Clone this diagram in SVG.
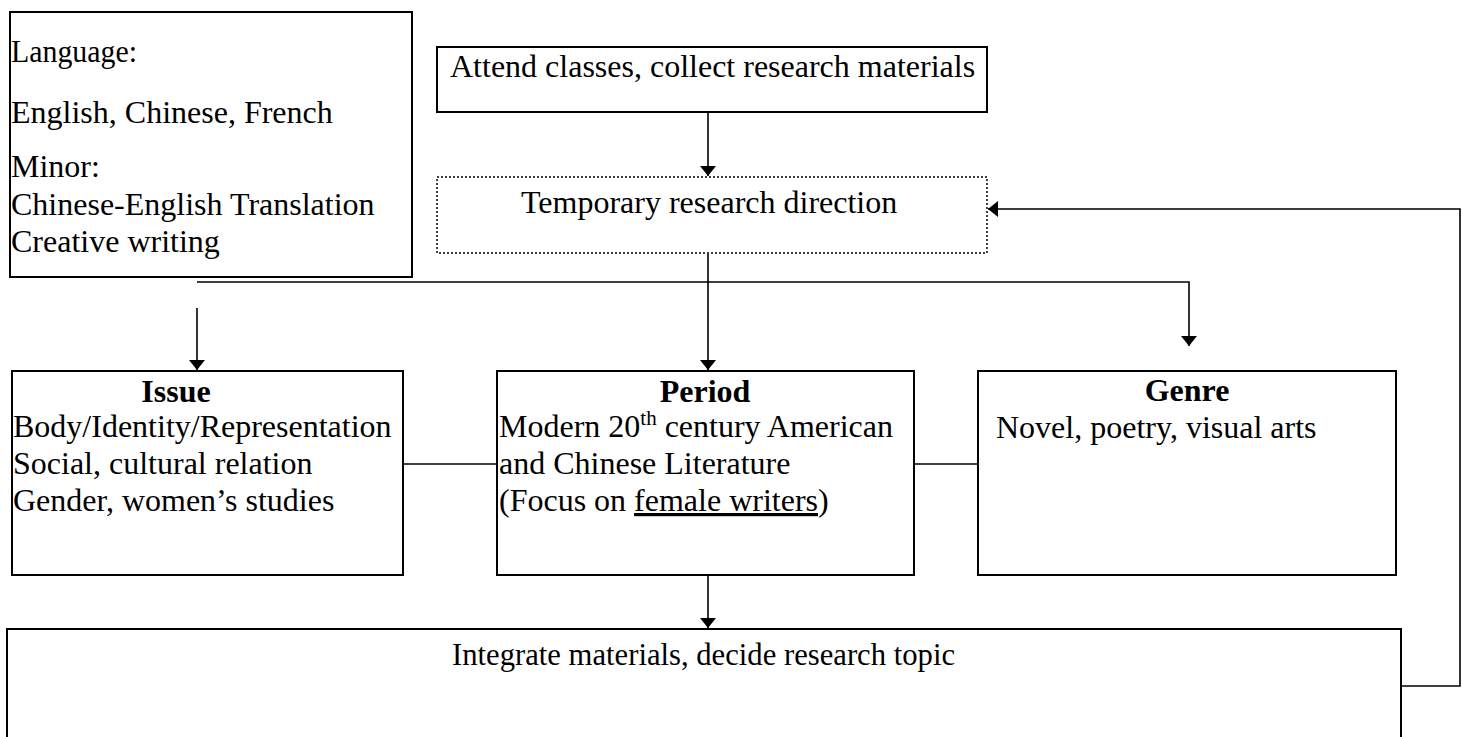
<svg xmlns="http://www.w3.org/2000/svg" width="1463" height="737" viewBox="0 0 1463 737">
<defs>
<marker id="arr" viewBox="0 0 10 16" refX="10" refY="8" markerWidth="10" markerHeight="16" markerUnits="userSpaceOnUse" orient="auto">
<path d="M0,0 L10,8 L0,16 Z" fill="#000"/>
</marker>
<style>
.box{fill:#fff;stroke:#000;stroke-width:2}
.dot{fill:#fff;stroke:#000;stroke-width:1.5;stroke-dasharray:2 2}
.ln{fill:none;stroke:#000;stroke-width:1.6}
text{font-family:"Liberation Serif","Times New Roman",serif;font-size:32px;fill:#000}
.b{font-weight:bold}
.m{text-anchor:middle}
</style>
</defs>
<rect width="1463" height="737" fill="#fff"/>
<g id="connectors">
<line class="ln" x1="708" y1="112" x2="708" y2="176" marker-end="url(#arr)"/>
<line class="ln" x1="708" y1="254" x2="708" y2="370" marker-end="url(#arr)"/>
<polyline class="ln" points="197,282 1189,282 1189,346" marker-end="url(#arr)"/>
<line class="ln" x1="197" y1="308" x2="197" y2="370" marker-end="url(#arr)"/>
<line class="ln" x1="403" y1="464" x2="497" y2="464"/>
<line class="ln" x1="914" y1="464" x2="980" y2="464"/>
<line class="ln" x1="708" y1="576" x2="708" y2="628" marker-end="url(#arr)"/>
<polyline class="ln" points="1401,686 1460,686 1460,209 988,209" marker-end="url(#arr)"/>
</g>
<g id="language">
<rect class="box" x="10" y="12" width="402" height="265"/>
<text x="11" y="62" textLength="126" lengthAdjust="spacingAndGlyphs">Language:</text>
<text x="11" y="123">English, Chinese, French</text>
<text x="11" y="177">Minor:</text>
<text x="11" y="215">Chinese-English Translation</text>
<text x="11" y="252">Creative writing</text>
</g>
<g id="attend">
<rect class="box" x="437" y="47" width="550" height="65"/>
<text x="450" y="77">Attend classes, collect research materials</text>
</g>
<g id="temporary">
<rect class="dot" x="437" y="177" width="550" height="76"/>
<text x="521" y="213">Temporary research direction</text>
</g>
<g id="issue">
<rect class="box" x="12" y="371" width="391" height="204"/>
<text class="b m" x="176" y="402">Issue</text>
<text x="13" y="437">Body/Identity/Representation</text>
<text x="13" y="474">Social, cultural relation</text>
<text x="13" y="511">Gender, women’s studies</text>
</g>
<g id="period">
<rect class="box" x="497" y="371" width="417" height="204"/>
<text class="b m" x="705" y="402">Period</text>
<text x="499" y="437">Modern 20<tspan font-size="21" dy="-12">th</tspan><tspan dy="12"> century American</tspan></text>
<text x="499" y="474">and Chinese Literature</text>
<text x="499" y="511">(Focus on <tspan text-decoration="underline">female writers</tspan>)</text>
</g>
<g id="genre">
<rect class="box" x="978" y="371" width="418" height="204"/>
<text class="b m" x="1187" y="401">Genre</text>
<text x="996" y="438">Novel, poetry, visual arts</text>
</g>
<g id="integrate">
<rect class="box" x="7" y="629" width="1394" height="130"/>
<text x="452" y="665" textLength="503" lengthAdjust="spacingAndGlyphs">Integrate materials, decide research topic</text>
</g>
</svg>
